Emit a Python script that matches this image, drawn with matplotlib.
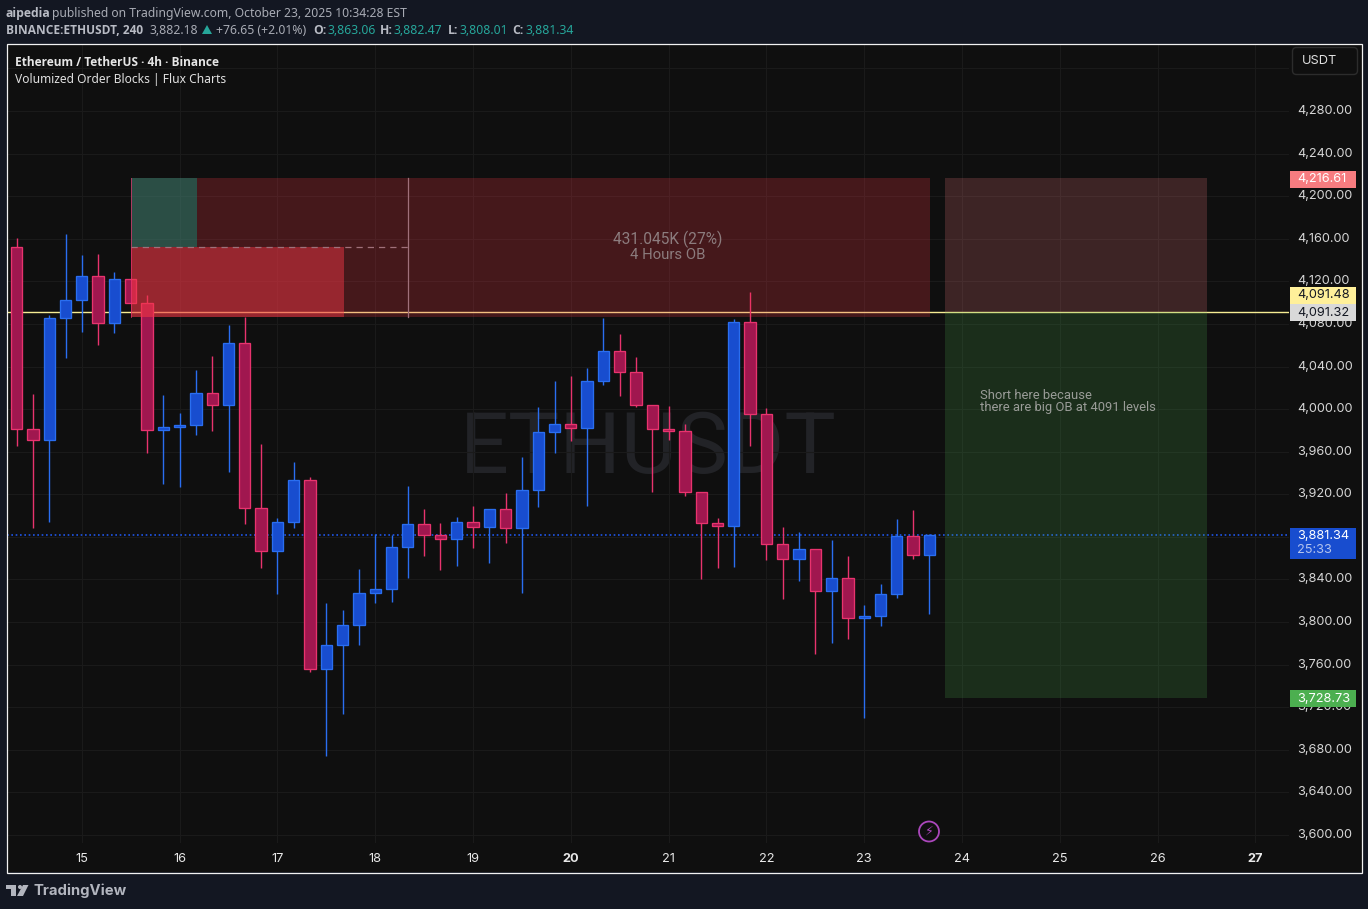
import numpy as np
import matplotlib
matplotlib.use("Agg")
import matplotlib.pyplot as plt
from matplotlib.patches import Rectangle, Circle, Polygon, FancyBboxPatch

plt.rcParams['font.family'] = ['Inter', 'DejaVu Sans']

# ETHUSDT 4h candles
opens = [4152.7, 3980.9, 3971.3, 4085.6, 4102.2, 4124.8, 4080.6, 4121.9, 4099.4, 3980.1,
         3982.9, 3984.8, 4014.9, 4003.6, 4061.8, 3906.9, 3866.5, 3893.7, 3933.2, 3755.6,
         3778.2, 3797.0, 3827.0, 3830.8, 3870.2, 3891.8, 3881.5, 3877.7, 3893.7, 3889.0,
         3905.9, 3888.1, 3923.8, 3978.2, 3985.7, 3982.0, 4026.1, 4054.3, 4034.6, 4003.6,
         3981.0, 3979.2, 3921.9, 3892.8, 3890.0, 4081.5, 3995.1, 3873.0, 3859.0, 3868.3,
         3828.9, 3841.1, 3803.5, 3805.4, 3826.1, 3880.6, 3862.7]
closes = [3980.9, 3971.3, 4085.6, 4102.2, 4124.8, 4080.6, 4121.9, 4099.4, 3980.1, 3982.9,
          3984.8, 4014.9, 4003.6, 4061.8, 3906.9, 3866.5, 3893.7, 3933.2, 3755.6, 3778.2,
          3797.0, 3827.0, 3830.8, 3870.2, 3891.8, 3881.5, 3877.7, 3893.7, 3889.0, 3905.9,
          3888.1, 3923.8, 3978.2, 3985.7, 3982.0, 4026.1, 4054.3, 4034.6, 4003.6, 3981.0,
          3979.2, 3921.9, 3892.8, 3890.0, 4081.5, 3995.1, 3873.0, 3859.0, 3868.3, 3828.9,
          3841.1, 3803.5, 3805.4, 3826.1, 3880.6, 3862.7, 3881.3]
highs = [4160.7, 4014.2, 4088.4, 4164.5, 4144.8, 4145.7, 4128.8, 4121.9, 4107.2, 4013.3,
         3996.4, 4036.7, 4049.9, 4079.0, 4086.8, 3967.2, 3897.7, 3950.3, 3936.3, 3817.6,
         3811.3, 3849.8, 3882.4, 3881.8, 3927.8, 3906.2, 3893.1, 3898.7, 3909.0, 3905.9,
         3921.2, 3955.0, 4002.0, 4026.4, 4031.1, 4038.6, 4085.6, 4070.6, 4049.0, 4003.6,
         4002.9, 3986.0, 3921.9, 3897.7, 4084.6, 4110.0, 4001.1, 3889.3, 3884.6, 3868.3,
         3877.1, 3862.1, 3816.0, 3835.8, 3896.8, 3905.3, 3882.7]
lows = [3965.6, 3888.6, 3894.3, 4048.3, 4072.7, 4060.5, 4071.8, 4099.4, 3959.1, 3930.0,
        3927.1, 3976.0, 3979.7, 3941.2, 3892.4, 3851.1, 3826.4, 3888.6, 3753.4, 3674.5,
        3714.0, 3778.8, 3818.2, 3819.1, 3841.7, 3862.3, 3849.2, 3853.0, 3869.8, 3855.8,
        3874.5, 3827.6, 3908.4, 3959.1, 3970.3, 3909.3, 4022.9, 4012.3, 4002.0, 3922.4,
        3971.3, 3918.7, 3840.7, 3851.1, 3852.0, 3965.6, 3858.6, 3822.0, 3838.9, 3770.3,
        3780.6, 3784.4, 3710.2, 3796.6, 3822.9, 3859.5, 3807.9]

price_ticks = [3600, 3640, 3680, 3720, 3760, 3800, 3840, 3880, 3920, 3960, 4000, 4040,
               4080, 4120, 4160, 4200, 4240, 4280, 4320]
# 3880 sits behind the last price tag and 4320 behind the USDT button
hidden_ticks = [3880, 4320]
day_labels = ["15", "16", "17", "18", "19", "20", "21", "22", "23", "24", "25", "26", "27"]
day_bars = [4, 10, 16, 22, 28, 34, 40, 46, 52, 58, 64, 70, 76]
bold_days = ["20", "27"]

ob_top, ob_bottom, ob_mid = 4216.61, 4086.8, 4152.6
last_price = 3881.34
entry, stop, target = 4091.48, 4216.61, 3728.73

BG = '#131722'
PANE = '#0f0f0f'
GRID = '#1a1a1a'
UP_FILL, UP_EDGE = '#184dcf', '#2a6ef0'
DOWN_FILL, DOWN_EDGE = '#a0174f', '#e8336e'
W, H = 1368, 909

fig = plt.figure(figsize=(W / 100, H / 100), dpi=100, facecolor=BG)

# main pane, pixel box 7..1289 by 44..843
ax = fig.add_axes([7 / W, 1 - 843 / H, (1289 - 7) / W, (843 - 44) / H], facecolor=PANE)
bar_px = 16.3
bar0 = 16.6
ax.set_xlim((7 - bar0) / bar_px, (1289 - bar0) / bar_px)
ax.set_ylim(3592.5, 4342.9)

# chrome overlay in pixel coordinates
top = fig.add_axes([0, 0, 1, 1], facecolor='none', zorder=5)
top.set_xlim(0, W)
top.set_ylim(H, 0)
top.axis('off')
top.add_patch(Rectangle((7, 843), 1355, 29, fc=PANE, ec='none', zorder=0))
top.add_patch(Rectangle((1289, 44), 73, 799, fc=PANE, ec='none', zorder=0))
top.add_patch(Rectangle((6.5, 43.5), 1355.5, 829, fc='none', ec='#f2f2f2', lw=0.9, zorder=1))


def price_px(p):
    return H - ax.transData.transform((0, p))[1]


def bar_x(px):
    return (px - bar0) / bar_px


ax.set_yticks(price_ticks)
ax.set_xticks(day_bars)
ax.grid(True, color=GRID, lw=0.8, zorder=0)
ax.set_axisbelow(True)
ax.tick_params(length=0, labelleft=False, labelbottom=False)
for s in ax.spines.values():
    s.set_visible(False)

# watermark
ax.text(bar_x(648), 3962, "ETHUSDT", fontsize=62, family='Roboto', color='#222327',
        ha='center', va='center', zorder=0.5)

# horizontal lines under the candles
ax.axhline(entry, color='#f5ec93', lw=1.0, zorder=1)
ax.axhline(last_price, color='#1f55e8', lw=1.2, ls=(0, (1, 1.6)), zorder=1)

# candles
x = np.arange(len(opens))
for i in x:
    up = closes[i] >= opens[i]
    ax.vlines(i, lows[i], highs[i], color=UP_EDGE if up else DOWN_EDGE, lw=1.0, zorder=2)
    ax.bar(i, abs(closes[i] - opens[i]), bottom=min(opens[i], closes[i]), width=0.69,
           color=UP_FILL if up else DOWN_FILL, edgecolor=UP_EDGE if up else DOWN_EDGE,
           linewidth=0.95, zorder=3)

# order block
ob_l, ob_r = bar_x(131), bar_x(930)
ax.add_patch(Rectangle((ob_l, ob_bottom), ob_r - ob_l, ob_top - ob_bottom, fc='#f23645', alpha=0.24, ec='none', zorder=4))
ax.add_patch(Rectangle((ob_l, ob_bottom), bar_x(344) - ob_l, ob_mid - ob_bottom, fc='#f23645', alpha=0.48, ec='none', zorder=4))
ax.add_patch(Rectangle((ob_l, ob_mid), bar_x(197) - ob_l, ob_top - ob_mid, fc='#089981', alpha=0.42, ec='none', zorder=4))
ax.plot([ob_l, ob_l], [ob_bottom, ob_top], color='#e8336e', lw=0.7, alpha=0.7, zorder=4)
ax.plot([ob_l, bar_x(408)], [ob_mid, ob_mid], color='#a0707a', lw=0.9, ls=(0, (5, 4)), zorder=4)
ax.plot([bar_x(408), bar_x(408)], [ob_bottom, ob_top], color='#a0707a', lw=0.9, zorder=4)
ax.text(bar_x(668), 4151.5, "431.045K (27%)", fontsize=11.2, family='Roboto', color='#8c7c7e',
        ha='center', va='bottom', zorder=5)
ax.text(bar_x(668), 4151.5, "4 Hours OB", fontsize=10.7, family='Roboto', color='#8c7c7e',
        ha='center', va='top', zorder=5)

# short position
pos_l, pos_r = bar_x(945), bar_x(1207)
ax.add_patch(Rectangle((pos_l, entry), pos_r - pos_l, stop - entry, fc='#f77c80', alpha=0.2, ec='none', zorder=4))
ax.add_patch(Rectangle((pos_l, target), pos_r - pos_l, entry - target, fc='#4caf50', alpha=0.2, ec='none', zorder=4))
ax.text(bar_x(980), 4007, "Short here because\nthere are big OB at 4091 levels", fontsize=9.35, family='Roboto',
        color='#9a9c98', ha='left', va='center', linespacing=0.9, zorder=5)

# price scale labels
for p in price_ticks:
    if p not in hidden_ticks:
        top.text(1297.5, price_px(p), f"{p:,.2f}", fontsize=9.15, color='#d6d6d6', va='center', ha='left', zorder=2)

# time scale labels
for lab, b in zip(day_labels, day_bars):
    top.text(bar0 + b * bar_px, 859, lab, fontsize=9.2, color='#e8e8e8', va='center', ha='center',
             fontweight='bold' if lab in bold_days else 'normal', zorder=2)

# price tags on the scale
tags = [(stop, "4,216.61", '#f77c80', '#ffffff'),
        (target, "3,728.73", '#4caf50', '#ffffff')]
for p, lab, bg, fg in tags:
    yy = price_px(p) + 1
    top.add_patch(Rectangle((1290, yy - 8.5), 66, 17, fc=bg, ec='none', zorder=3))
    top.text(1297.5, yy, lab, fontsize=9.15, color=fg, va='center', ha='left', zorder=4)
top.add_patch(Rectangle((1290, 287), 66, 17, fc='#fff09a', ec='none', zorder=3))
top.text(1297.5, 295.5, "4,091.48", fontsize=9.15, color='#131722', va='center', zorder=4)
top.add_patch(Rectangle((1290, 304), 66, 17, fc='#d9d9d9', ec='none', zorder=3))
top.text(1297.5, 312.5, "4,091.32", fontsize=9.15, color='#131722', va='center', zorder=4)
top.add_patch(Rectangle((1290, 528), 66, 31, fc='#184dcf', ec='none', zorder=3))
top.text(1297.5, 536, "3,881.34", fontsize=9.15, color='#ffffff', va='center', zorder=4)
top.text(1297.5, 550, "25:33", fontsize=9.15, color='#b4c4ee', va='center', zorder=4)

# currency button
top.add_patch(FancyBboxPatch((1295, 50), 60, 22, boxstyle='round,pad=2.5,rounding_size=4', fc=PANE, ec='#2c2c2c', lw=1, zorder=3))
top.text(1302, 61, "USDT", fontsize=9.2, color='#e0e0e0', va='center', zorder=4)

# lightning badge
top.add_patch(Circle((929, 831.5), 10, fc=PANE, ec='#ab47bc', lw=1.3, zorder=3))
top.text(929, 831.5, "\u26a1", fontsize=9, color='#ab47bc', family='DejaVu Sans', ha='center', va='center', zorder=4)

# header texts, regular in Noto Sans and bold in Open Sans
HF = 'Noto Sans'
BF = 'Open Sans'
top.text(6, 13, "aipedia", fontsize=8.7, fontweight='bold', color='#b8bbc4', family=BF, va='center')
top.text(52, 13, "published on TradingView.com, October 23, 2025 10:34:28 EST", fontsize=8.78, color='#a8abb4', family=HF, va='center')
top.text(6, 30, "BINANCE:ETHUSDT, 240", fontsize=8.6, fontweight='bold', color='#b8bbc4', family=BF, va='center')
top.text(150, 30, "3,882.18", fontsize=8.8, color='#a8abb4', family=HF, va='center')
top.add_patch(Polygon([[202, 34], [212, 34], [207, 25]], fc='#26a69a', ec='none'))
top.text(216, 30, "+76.65 (+2.01%)", fontsize=8.8, color='#a8abb4', family=HF, va='center')
ohlc = [(313, "O:", 327, "3,863.06"), (380, "H:", 394, "3,882.47"),
        (448, "L:", 460, "3,808.01"), (512, "C:", 525, "3,881.34")]
for x0, k, x1, v in ohlc:
    top.text(x0, 30, k, fontsize=8.7, fontweight='bold', color='#b8bbc4', family=BF, va='center')
    top.text(x1, 30, v, fontsize=8.8, color='#26a69a', family=HF, va='center')

# legend inside the pane
top.text(15, 62, "Ethereum / TetherUS \u00b7 4h \u00b7 Binance", fontsize=8.55, fontweight='bold', color='#e6e6e6', family=BF, va='center')
top.text(15, 79, "Volumized Order Blocks | Flux Charts", fontsize=8.65, color='#e0e0e0', family=HF, va='center')

# footer logo
LOGO = '#b2b5be'
top.add_patch(Polygon([[6, 885], [16, 885], [16, 896], [11, 896], [11, 889], [6, 889]], fc=LOGO, ec='none'))
top.add_patch(Circle((20, 887), 2, fc=LOGO, ec='none'))
top.add_patch(Polygon([[23, 885], [28.5, 885], [23, 896], [17, 896]], fc=LOGO, ec='none'))
top.text(33, 890.5, "TradingView", fontsize=10.7, fontweight='bold', color=LOGO, family='Inter', va='center')

fig.savefig("out.png", dpi=100, facecolor=BG)
